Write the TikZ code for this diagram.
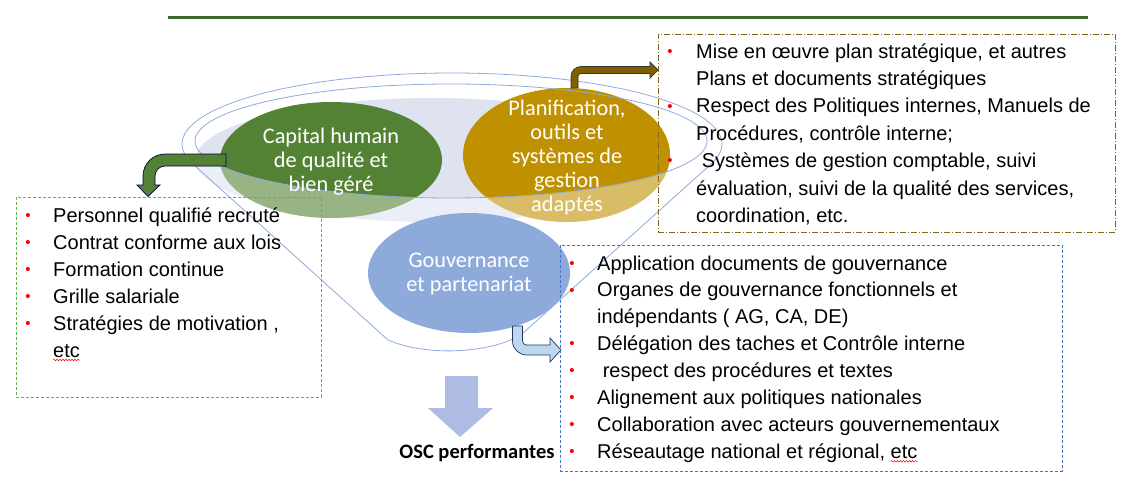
\documentclass[tikz,border=0pt]{standalone}
\usepackage{fontspec}
\usetikzlibrary{shapes.geometric,calc,decorations.pathmorphing}
\newfontfamily\listfont{Liberation Sans}
\newfontfamily\calfont{Carlito}

\definecolor{capgreen}{HTML}{548235}
\definecolor{plangold}{HTML}{BF9000}
\definecolor{govblue}{HTML}{8EAADB}
\definecolor{lavender}{HTML}{DFE3F0}
\definecolor{rimblue}{HTML}{8FAADC}
\definecolor{topgreen}{HTML}{41692D}
\definecolor{boxgreen}{HTML}{70AD47}
\definecolor{boxbrown}{HTML}{806A1A}
\definecolor{boxblue}{HTML}{4472C4}
\definecolor{arrowbrown}{HTML}{7F6000}
\definecolor{arrowpale}{HTML}{BDD7EE}
\definecolor{downblue}{HTML}{AEBBE2}

\begin{document}
\begin{tikzpicture}[x=1pt,y=-1pt,
  bubble/.style={ellipse, inner sep=0pt, draw=none},
  bubbletext/.style={font=\calfont\fontsize{22.3}{24}\selectfont, text=white, align=center, inner sep=0pt},
  item/.style={font=\listfont\fontsize{20}{24}\selectfont, anchor=base west, inner sep=0pt},
  bul/.style={font=\listfont\fontsize{15}{18}\selectfont, text=red, anchor=base, inner sep=0pt},
  rim/.style={draw=rimblue, line width=0.8pt},
  listbox/.style={anchor=north west, inner sep=0pt, line width=0.8pt},
  spell/.style={red, line width=0.5pt, decorate, decoration={snake, amplitude=0.8pt, segment length=3pt}}]

\useasboundingbox (0,0) rectangle (1126,501);

% heading rule
\coordinate (ruleL) at (168,17);
\coordinate (ruleR) at (1088,17);
\draw[topgreen, line width=3pt] (ruleL) -- (ruleR);

% inside of the funnel
\fill[lavender] (432,160) ellipse [x radius=237pt, y radius=62pt];

% upper bubbles
\node[bubble, fill=capgreen, minimum width=222pt, minimum height=116pt] (capital) at (331,160) {};
\node[bubble, fill=plangold, minimum width=207pt, minimum height=134pt] (plan) at (566.5,155) {};

% front wall of the funnel lightens what lies behind it
\fill[white, opacity=0.4] (0,141) -- plot[domain=180:0, samples=90] ({451+256*cos(\x)}, {141+57*sin(\x)})
  -- (1126,141) -- (1126,501) -- (0,501) -- cycle;

% lower bubble
\node[bubble, fill=govblue, minimum width=202pt, minimum height=120pt] (gov) at (469,273) {};

% funnel outline and rim
\draw[rim] plot[domain=164:376, samples=120] ({452+270*cos(\x)}, {144+71*sin(\x)})
  -- (522,334) .. controls (495,352) and (430,358) .. (388,340) -- cycle;
\draw[rim] (451,141) ellipse [x radius=256pt, y radius=57pt];

% bubble captions
\node[bubbletext] (capitaltext) at (331,162) {Capital humain\\de qualité et\\bien géré};
\node[bubbletext] (plantext) at (567,158) {Planification,\\outils et\\systèmes de\\gestion\\adaptés};
\node[bubbletext] (govtext) at (469,274) {Gouvernance\\et partenariat};

% bent arrow: human capital -> left list
\filldraw[fill=capgreen, draw=black!75!blue, line width=0.7pt]
  (226,154) -- (165,154) .. controls (152.9,154) and (143,163.9) .. (143,176)
  -- (143,185) -- (137,185) -- (148,196.5) -- (160,185) -- (155,185) -- (155,176)
  .. controls (155,170.5) and (159.5,166) .. (165,166) -- (226,166) -- cycle;

% bent arrow: planning -> upper right list
\filldraw[fill=arrowbrown, draw=black!80, line width=0.7pt]
  (571,88) -- (571,76.5) .. controls (571,71) and (575.5,66.5) .. (581,66.5)
  -- (650,66.5) -- (650,62) -- (658,70) -- (650,78) -- (650,73.5) -- (581,73.5)
  .. controls (579.3,73.5) and (578,74.8) .. (578,76.5) -- (578,88) -- cycle;

% bent arrow: governance -> lower right list
\filldraw[fill=arrowpale, draw=black!50!boxblue, line width=0.7pt]
  (512.5,326) -- (512.5,341) .. controls (512.5,348.7) and (518.8,355) .. (526.5,355)
  -- (550,355) -- (550,362) -- (561,350) -- (550,338) -- (550,345) -- (526.5,345)
  .. controls (524.3,345) and (522.5,343.2) .. (522.5,341) -- (522.5,326) -- cycle;

% result arrow
\fill[downblue] (445,376) -- (478,376) -- (478,408) -- (493,408) -- (460,437) -- (428,408) -- (445,408) -- cycle;
\node[font=\calfont\bfseries\fontsize{20.5}{24}\selectfont, anchor=base, inner sep=0pt] (osc) at (477,458) {OSC performantes};

% list frames
\node[listbox, draw=boxgreen, dash pattern=on 3pt off 2pt, minimum width=305pt, minimum height=200pt] (hrbox) at (16,197) {};
\node[listbox, draw=boxbrown, dash pattern=on 6pt off 2pt on 1pt off 2pt, minimum width=457pt, minimum height=198pt] (planbox) at (658,34) {};
\node[listbox, draw=boxblue, dash pattern=on 3pt off 2pt, line width=0.9pt, minimum width=502pt, minimum height=226pt] (govbox) at (560,245) {};

% left list
\foreach \hasb/\ltext [count=\i] in {1/{Personnel qualifié recruté},1/{Contrat conforme aux lois},
  1/{Formation continue},1/{Grille salariale},1/{Stratégies de motivation ,},0/{etc}}{
  \node[item] (L\i) at (53,{222.5+26.9*(\i-1)}) {\ltext};
  \ifnum\hasb=1 \node[bul] (Lb\i) at (28,{222.5+26.9*(\i-1)}) {\raisebox{1.8pt}{•}};\fi
}
\draw[spell] ($(L6.base west)+(0,3)$) -- ($(L6.base east)+(0,3)$);

% upper right list
\foreach \hasb/\ltext [count=\i] in {1/{Mise en œuvre plan stratégique, et autres},
  0/{Plans et documents stratégiques},1/{Respect des Politiques internes, Manuels de},
  0/{Procédures, contrôle interne;},1/{\ Systèmes de gestion comptable, suivi},
  0/{évaluation, suivi de la qualité des services,},0/{coordination, etc.}}{
  \node[item] (T\i) at (696,{58+27.4*(\i-1)}) {\ltext};
  \ifnum\hasb=1 \node[bul] (Tb\i) at (670,{58+27.4*(\i-1)}) {\raisebox{1.8pt}{•}};\fi
}

% lower right list
\foreach \hasb/\ltext [count=\i] in {1/{Application documents de gouvernance},
  1/{Organes de gouvernance fonctionnels et},0/{indépendants ( AG, CA, DE)},
  1/{Délégation des taches et Contrôle interne},1/{\ respect des procédures et textes},
  1/{Alignement aux politiques nationales},1/{Collaboration avec acteurs gouvernementaux},
  1/{Réseautage national et régional, etc}}{
  \node[item] (B\i) at (597,{270+26.9*(\i-1)}) {\ltext};
  \ifnum\hasb=1 \node[bul] (Bb\i) at (572,{270+26.9*(\i-1)}) {\raisebox{1.8pt}{•}};\fi
}
\draw[spell] ($(B8.base east)+(-27,3)$) -- ($(B8.base east)+(0,3)$);

\end{tikzpicture}
\end{document}
